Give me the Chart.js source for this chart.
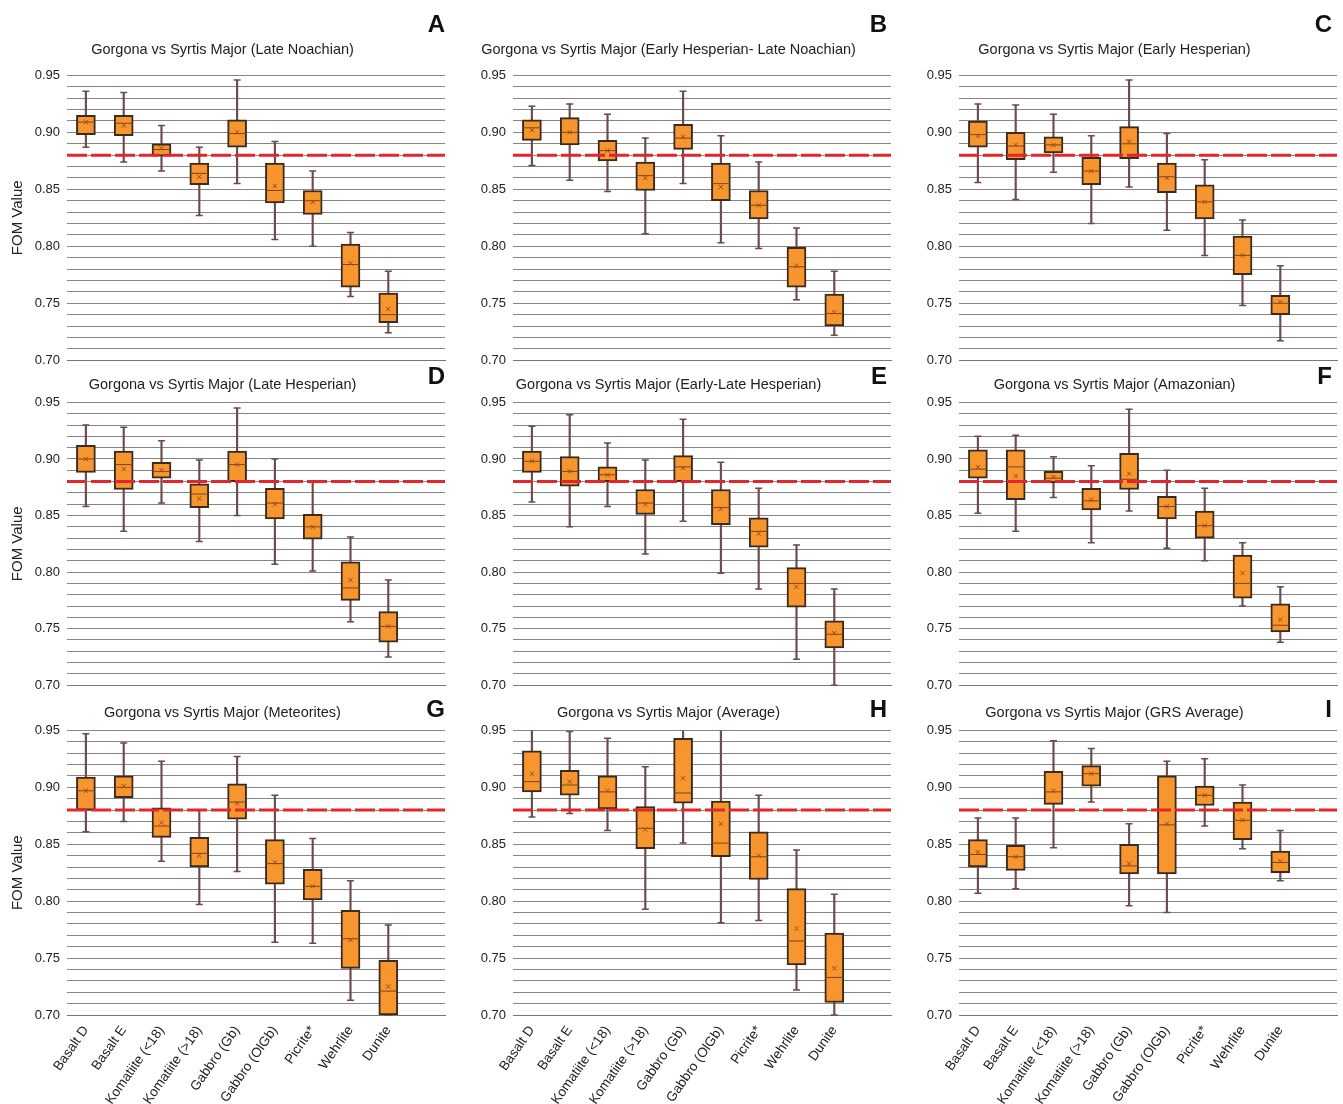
<!DOCTYPE html>
<html>
<head>
<meta charset="utf-8">
<script src="https://cdn.jsdelivr.net/npm/chart.js@4.4.1/dist/chart.umd.min.js"></script>
<style>
  body { margin: 0; background: #fff; width: 1343px; height: 1104px; position: relative; overflow: hidden; }
  .panel { position: absolute; }
  .letter { position: absolute; width: 40px; text-align: right; font: bold 24px/1 "Liberation Sans", Arial, sans-serif; color: #111; }
</style>
</head>
<body>
<script>
// Categories (last slot is left empty, like the original figure)
const categories = ["Basalt D", "Basalt E", "Komatiite (<18)", "Komatiite (>18)", "Gabbro (Gb)", "Gabbro (OlGb)", "Picrite*", "Wehrlite", "Dunite", ""];

const titles = [
  "Gorgona vs Syrtis Major (Late Noachian)",
  "Gorgona vs Syrtis Major (Early Hesperian- Late Noachian)",
  "Gorgona vs Syrtis Major (Early Hesperian)",
  "Gorgona vs Syrtis Major (Late Hesperian)",
  "Gorgona vs Syrtis Major (Early-Late Hesperian)",
  "Gorgona vs Syrtis Major (Amazonian)",
  "Gorgona vs Syrtis Major (Meteorites)",
  "Gorgona vs Syrtis Major (Average)",
  "Gorgona vs Syrtis Major (GRS Average)"
];
const letters = ["A", "B", "C", "D", "E", "F", "G", "H", "I"];

const yMin = 0.70, yMax = 0.95, gridStep = 0.01;
const threshold = 0.88;

// A - Late Noachian
const aLow  = [0.887, 0.874, 0.866, 0.827, 0.855, 0.806, 0.800, 0.756, 0.724];
const aQ1   = [0.898, 0.897, 0.879, 0.854, 0.887, 0.838, 0.828, 0.764, 0.733];
const aMed  = [0.909, 0.908, 0.885, 0.864, 0.899, 0.849, 0.840, 0.784, 0.740];
const aQ3   = [0.915, 0.915, 0.890, 0.873, 0.911, 0.873, 0.849, 0.802, 0.759];
const aHigh = [0.936, 0.935, 0.906, 0.887, 0.946, 0.892, 0.866, 0.812, 0.778];
const aMean = [0.909, 0.906, 0.886, 0.861, 0.900, 0.853, 0.839, 0.785, 0.745];

// B - Early Hesperian / Late Noachian
const bLow  = [0.871, 0.858, 0.848, 0.811, 0.855, 0.803, 0.798, 0.753, 0.722];
const bQ1   = [0.893, 0.889, 0.875, 0.849, 0.885, 0.840, 0.824, 0.764, 0.730];
const bMed  = [0.904, 0.900, 0.884, 0.862, 0.895, 0.855, 0.836, 0.782, 0.741];
const bQ3   = [0.911, 0.913, 0.893, 0.874, 0.907, 0.873, 0.849, 0.799, 0.758];
const bHigh = [0.923, 0.925, 0.916, 0.895, 0.936, 0.897, 0.874, 0.816, 0.778];
const bMean = [0.902, 0.900, 0.884, 0.860, 0.896, 0.852, 0.836, 0.783, 0.742];

// C - Early Hesperian
const cLow  = [0.856, 0.841, 0.865, 0.820, 0.852, 0.814, 0.792, 0.748, 0.717];
const cQ1   = [0.887, 0.876, 0.882, 0.854, 0.877, 0.847, 0.824, 0.775, 0.740];
const cMed  = [0.898, 0.888, 0.889, 0.866, 0.890, 0.861, 0.839, 0.792, 0.750];
const cQ3   = [0.910, 0.900, 0.896, 0.878, 0.905, 0.873, 0.854, 0.809, 0.757];
const cHigh = [0.925, 0.924, 0.916, 0.897, 0.946, 0.899, 0.876, 0.823, 0.783];
const cMean = [0.897, 0.889, 0.889, 0.866, 0.892, 0.860, 0.839, 0.792, 0.751];

// D - Late Hesperian
const dLow  = [0.858, 0.836, 0.861, 0.827, 0.850, 0.807, 0.801, 0.756, 0.725];
const dQ1   = [0.888, 0.873, 0.883, 0.857, 0.880, 0.847, 0.829, 0.775, 0.738];
const dMed  = [0.900, 0.895, 0.889, 0.869, 0.895, 0.861, 0.840, 0.786, 0.752];
const dQ3   = [0.912, 0.907, 0.897, 0.878, 0.907, 0.874, 0.851, 0.809, 0.765];
const dHigh = [0.930, 0.928, 0.916, 0.899, 0.945, 0.900, 0.880, 0.831, 0.793];
const dMean = [0.900, 0.891, 0.890, 0.865, 0.895, 0.860, 0.840, 0.793, 0.752];

// E - Early-Late Hesperian
const eLow  = [0.862, 0.840, 0.858, 0.816, 0.845, 0.799, 0.785, 0.723, 0.700];
const eQ1   = [0.888, 0.876, 0.880, 0.851, 0.880, 0.842, 0.822, 0.769, 0.733];
const eMed  = [0.898, 0.889, 0.886, 0.861, 0.893, 0.857, 0.836, 0.790, 0.745];
const eQ3   = [0.907, 0.902, 0.893, 0.873, 0.903, 0.873, 0.848, 0.804, 0.757];
const eHigh = [0.929, 0.939, 0.914, 0.899, 0.935, 0.897, 0.874, 0.824, 0.785];
const eMean = [0.898, 0.889, 0.886, 0.860, 0.892, 0.856, 0.834, 0.787, 0.746];

// F - Amazonian
const fLow  = [0.852, 0.836, 0.866, 0.826, 0.854, 0.821, 0.810, 0.770, 0.738];
const fQ1   = [0.883, 0.864, 0.879, 0.855, 0.873, 0.847, 0.830, 0.777, 0.747];
const fMed  = [0.891, 0.893, 0.883, 0.863, 0.882, 0.858, 0.841, 0.790, 0.753];
const fQ3   = [0.908, 0.908, 0.889, 0.874, 0.905, 0.867, 0.854, 0.815, 0.772];
const fHigh = [0.920, 0.921, 0.902, 0.894, 0.944, 0.890, 0.874, 0.826, 0.787];
const fMean = [0.893, 0.885, 0.884, 0.864, 0.887, 0.858, 0.841, 0.799, 0.758];

// G - Meteorites
const gLow  = [0.861, 0.870, 0.835, 0.797, 0.826, 0.764, 0.763, 0.713, 0.700];
const gQ1   = [0.880, 0.891, 0.856, 0.830, 0.872, 0.815, 0.801, 0.741, 0.700];
const gMed  = [0.897, 0.900, 0.866, 0.842, 0.887, 0.833, 0.813, 0.767, 0.721];
const gQ3   = [0.909, 0.910, 0.882, 0.856, 0.903, 0.854, 0.828, 0.792, 0.748];
const gHigh = [0.947, 0.939, 0.923, 0.880, 0.927, 0.893, 0.855, 0.818, 0.779];
const gMean = [0.897, 0.901, 0.869, 0.840, 0.886, 0.834, 0.813, 0.766, 0.725];

// H - Average
const hLow  = [0.874, 0.877, 0.862, 0.793, 0.851, 0.781, 0.783, 0.722, 0.700];
const hQ1   = [0.896, 0.893, 0.881, 0.846, 0.886, 0.839, 0.819, 0.744, 0.711];
const hMed  = [0.905, 0.902, 0.896, 0.864, 0.895, 0.851, 0.839, 0.765, 0.733];
const hQ3   = [0.932, 0.915, 0.910, 0.883, 0.943, 0.888, 0.861, 0.811, 0.772];
const hHigh = [0.955, 0.949, 0.943, 0.918, 0.955, 0.955, 0.893, 0.845, 0.806];
const hMean = [0.912, 0.905, 0.897, 0.863, 0.908, 0.868, 0.840, 0.776, 0.741];

// I - GRS Average
const iLow  = [0.807, 0.811, 0.847, 0.887, 0.796, 0.790, 0.866, 0.846, 0.818];
const iQ1   = [0.830, 0.827, 0.885, 0.901, 0.824, 0.824, 0.884, 0.854, 0.825];
const iMed  = [0.841, 0.839, 0.896, 0.912, 0.831, 0.867, 0.893, 0.871, 0.834];
const iQ3   = [0.854, 0.849, 0.914, 0.919, 0.850, 0.910, 0.901, 0.887, 0.844];
const iHigh = [0.873, 0.873, 0.941, 0.934, 0.868, 0.923, 0.925, 0.902, 0.862];
const iMean = [0.843, 0.839, 0.897, 0.912, 0.833, 0.868, 0.893, 0.871, 0.835];

const panelData = [
  [aLow, aQ1, aMed, aQ3, aHigh, aMean],
  [bLow, bQ1, bMed, bQ3, bHigh, bMean],
  [cLow, cQ1, cMed, cQ3, cHigh, cMean],
  [dLow, dQ1, dMed, dQ3, dHigh, dMean],
  [eLow, eQ1, eMed, eQ3, eHigh, eMean],
  [fLow, fQ1, fMed, fQ3, fHigh, fMean],
  [gLow, gQ1, gMed, gQ3, gHigh, gMean],
  [hLow, hQ1, hMed, hQ3, hHigh, hMean],
  [iLow, iQ1, iMed, iQ3, iHigh, iMean]
];

// Page layout
const colLeft = [0, 446, 892];
const rowTop = [0, 362, 690];
const rowHeight = [375, 338, 414];
const titlePad = [{ top: 41, bottom: 17 }, { top: 14, bottom: 9 }, { top: 14, bottom: 9 }];
const letterRight = [445, 887, 1332];
const letterTop = [12, 364, 697];

const FONT = "'Liberation Sans', Arial, sans-serif";
Chart.defaults.font.family = FONT;
Chart.defaults.color = "#222";

// Red dashed reference line across the plot area
const thresholdLine = {
  id: "thresholdLine",
  afterDatasetsDraw(chart) {
    const { ctx, chartArea, scales } = chart;
    const y = scales.y.getPixelForValue(threshold);
    ctx.save();
    ctx.strokeStyle = "#e3262b";
    ctx.lineWidth = 3;
    ctx.setLineDash([20, 4]);
    ctx.beginPath();
    ctx.moveTo(chartArea.left, y);
    ctx.lineTo(chartArea.right, y);
    ctx.stroke();
    ctx.restore();
  }
};

const capClip = { left: 10, right: 10, top: 0, bottom: 4 };

panelData.forEach((d, idx) => {
  const row = Math.floor(idx / 3);
  const col = idx % 3;
  const [low, q1, med, q3, high, mean] = d;

  const wrap = document.createElement("div");
  wrap.className = "panel";
  wrap.style.left = colLeft[col] + "px";
  wrap.style.top = rowTop[row] + "px";
  const canvas = document.createElement("canvas");
  canvas.width = 447;
  canvas.height = rowHeight[row];
  wrap.appendChild(canvas);
  document.body.appendChild(wrap);

  const letter = document.createElement("div");
  letter.className = "letter";
  letter.textContent = letters[idx];
  letter.style.left = (letterRight[col] - 40) + "px";
  letter.style.top = letterTop[row] + "px";
  document.body.appendChild(letter);

  const bottomRow = row === 2;

  new Chart(canvas, {
    type: "bar",
    data: {
      labels: categories,
      datasets: [
        {
          type: "line", label: "Mean", data: mean, showLine: false,
          pointStyle: "crossRot", pointRadius: 3, pointBorderWidth: 1,
          pointBorderColor: "#9c4a14", pointBackgroundColor: "#9c4a14"
        },
        {
          type: "line", label: "Median", data: med, showLine: false,
          pointStyle: "line", pointRadius: 9, pointBorderWidth: 1,
          pointBorderColor: "#7a4620"
        },
        {
          label: "Box", data: q1.map((v, i) => [v, q3[i]]), grouped: false,
          barThickness: 19, backgroundColor: "#f7952f", borderColor: "#3b2a1e",
          borderWidth: 2, borderSkipped: false
        },
        {
          type: "line", label: "Max", data: high, showLine: false, clip: capClip,
          pointStyle: "line", pointRadius: 3.5, pointBorderWidth: 1.5,
          pointBorderColor: "#6b4d4d"
        },
        {
          type: "line", label: "Min", data: low, showLine: false, clip: capClip,
          pointStyle: "line", pointRadius: 3.5, pointBorderWidth: 1.5,
          pointBorderColor: "#6b4d4d"
        },
        {
          label: "Whisker", data: low.map((v, i) => [v, high[i]]), grouped: false,
          barThickness: 1.5, backgroundColor: "#6b4d4d", borderWidth: 0, clip: 0
        }
      ]
    },
    options: {
      responsive: false,
      animation: false,
      events: [],
      layout: {
        autoPadding: false,
        padding: { left: 0, right: 2, top: 0, bottom: bottomRow ? 0 : (row === 0 ? 14 : 13) }
      },
      plugins: {
        legend: { display: false },
        tooltip: { enabled: false },
        title: {
          display: true, text: titles[idx], color: "#222",
          font: { size: 14.5, weight: "normal" }, padding: titlePad[row]
        }
      },
      scales: {
        x: {
          grid: { display: false },
          border: { display: true, color: "#777", width: 1 },
          afterFit: s => { s.height = bottomRow ? 89 : 0; },
          ticks: {
            display: bottomRow, autoSkip: false, maxRotation: 55, minRotation: 55,
            padding: 0, color: "#222", font: { size: 13.5 }
          }
        },
        y: {
          min: yMin, max: yMax,
          afterFit: s => { s.width = 67; },
          border: { display: false },
          grid: { color: "#858585", lineWidth: 1, drawTicks: false },
          title: {
            display: col === 0, text: "FOM Value", color: "#222",
            font: { size: 15 }, padding: { top: 9, bottom: 0 }
          },
          ticks: {
            stepSize: gridStep, autoSkip: false, padding: 7, color: "#222",
            font: { size: 13 },
            callback: v => Math.abs(v * 20 - Math.round(v * 20)) < 1e-6 ? v.toFixed(2) : ""
          }
        }
      }
    },
    plugins: [thresholdLine]
  });
});
</script>
</body>
</html>
